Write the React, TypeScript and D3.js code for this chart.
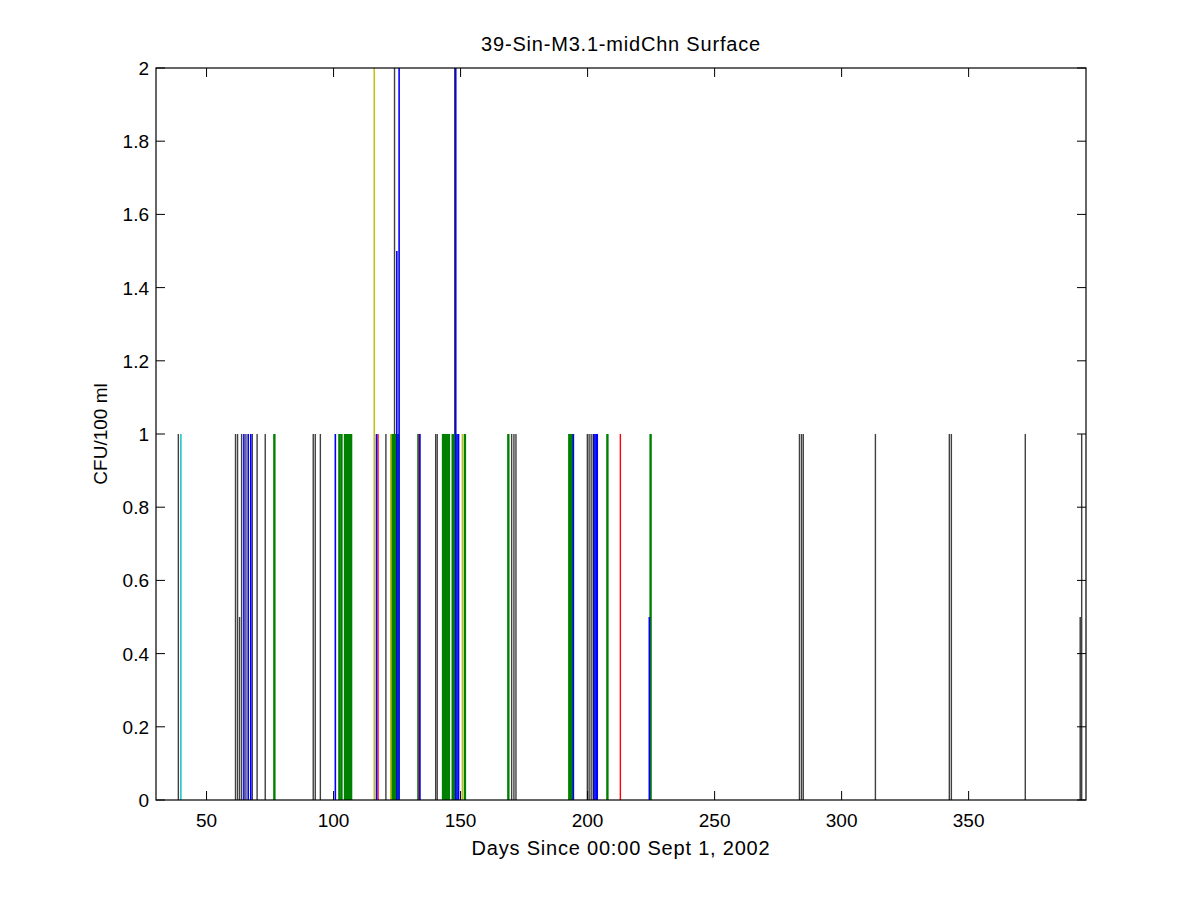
import React from "react";
import * as d3 from "d3";

const title = "39-Sin-M3.1-midChn Surface";
const xLabel = "Days Since 00:00 Sept 1, 2002";
const yLabel = "CFU/100 ml";
const xTicks = [50, 100, 150, 200, 250, 300, 350];
const yTicks = [0, 0.2, 0.4, 0.6, 0.8, 1, 1.2, 1.4, 1.6, 1.8, 2];
const xDomain = [30.1, 396.2];
const yDomain = [0, 2];

// dark gray (MATLAB 'k'-ish) samples
const grayDays = [38.9, 61.4, 62.2, 63.0, 63.8, 65.5, 68.0, 69.9, 73.1, 92.0, 92.8, 94.8, 120.6, 124.0, 140.2, 140.8, 144.8, 147.7, 170.1, 171.0, 171.8, 199.9, 200.6, 201.4, 283.4, 284.2, 284.9, 313.3, 342.4, 343.2, 372.3, 393.9, 394.2, 394.5];
const grayVals = [1, 1, 1, 0.5, 1, 1, 1, 1, 1, 1, 1, 1, 1, 2, 1, 1, 1, 2, 1, 1, 1, 1, 1, 1, 1, 1, 1, 1, 1, 1, 1, 0.5, 0.5, 1];

const greenDays = [76.7, 102.3, 103.1, 104.5, 104.9, 105.3, 105.7, 106.1, 106.5, 106.9, 122.9, 123.3, 123.7, 124.2, 124.6, 125.1, 125.4, 133.4, 143.1, 143.5, 143.9, 144.3, 145.0, 145.4, 146.9, 147.3, 151.7, 168.8, 192.8, 193.2, 193.6, 194.0, 207.8, 224.8];
const greenVals = [1, 1, 1, 1, 1, 1, 1, 1, 1, 1, 1, 1, 1, 1, 1, 1, 1, 1, 1, 1, 1, 1, 1, 1, 1, 1, 1, 1, 1, 1, 1, 1, 1, 1];

const cyanDays = [39.9];
const cyanVals = [1];

const yellowDays = [116.0, 122.6, 150.7, 202.0];
const yellowVals = [2, 1, 1, 1];

const redDays = [117.5, 133.7, 212.9];
const redVals = [1, 1, 1];

const blueDays = [64.7, 66.4, 67.4, 100.7, 116.9, 124.9, 125.8, 134.0, 148.1, 148.6, 149.2, 194.4, 202.4, 202.9, 203.4, 203.8, 224.3];
const blueVals = [1, 1, 1, 1, 1, 1.5, 2, 1, 2, 1, 1, 1, 1, 1, 1, 1, 0.5];

const series = [
  { days: grayDays, vals: grayVals, color: "#404040", w: 1.4 },
  { days: greenDays, vals: greenVals, color: "#008000", w: 2.4 },
  { days: cyanDays, vals: cyanVals, color: "#00BFBF", w: 1.4 },
  { days: yellowDays, vals: yellowVals, color: "#BFBF00", w: 1.4 },
  { days: redDays, vals: redVals, color: "#FF0000", w: 1.4 },
  { days: blueDays, vals: blueVals, color: "#0000FF", w: 1.6 },
];

const W = 1200;
const H = 900;
const L = 156, R = 1086, T = 68, B = 800;
const FONT = "'Liberation Sans', Arial, sans-serif";
const FS = 19;
const FS_LABEL = 20;

export default function App() {
  const x = d3.scaleLinear().domain(xDomain).range([L, R]);
  const y = d3.scaleLinear().domain(yDomain).range([B, T]);
  const tick = 9;
  return (
    <div style={{ position: "absolute", left: 0, top: 0 }}>
      <svg width={W} height={H} style={{ display: "block", background: "#fff" }}>
        <rect x={0} y={0} width={W} height={H} fill="#fff" />
        <defs>
          <clipPath id="plot">
            <rect x={L} y={T} width={R - L} height={B - T} />
          </clipPath>
        </defs>
        <g clipPath="url(#plot)">
          {series.map((s, si) =>
            s.days.map((d, i) => (
              <line
                key={si + "-" + i}
                x1={x(d)}
                x2={x(d)}
                y1={y(0)}
                y2={y(s.vals[i])}
                stroke={s.color}
                strokeWidth={s.w}
              />
            ))
          )}
        </g>
        <rect x={L} y={T} width={R - L} height={B - T} fill="none" stroke="#000" strokeWidth={1.2} />
        {xTicks.map((t) => (
          <g key={"xt" + t}>
            <line x1={x(t)} x2={x(t)} y1={B} y2={B - tick} stroke="#000" />
            <line x1={x(t)} x2={x(t)} y1={T} y2={T + tick} stroke="#000" />
            <text x={x(t)} y={B + 27} textAnchor="middle" fontFamily={FONT} fontSize={FS}>
              {t}
            </text>
          </g>
        ))}
        {yTicks.map((t) => (
          <g key={"yt" + t}>
            <line x1={L} x2={L + tick} y1={y(t)} y2={y(t)} stroke="#000" />
            <line x1={R} x2={R - tick} y1={y(t)} y2={y(t)} stroke="#000" />
            <text x={L - 7} y={y(t) + 7} textAnchor="end" fontFamily={FONT} fontSize={FS}>
              {d3.format("~g")(t)}
            </text>
          </g>
        ))}
        <text x={(L + R) / 2} y={51} textAnchor="middle" fontFamily={FONT} fontSize={FS_LABEL} letterSpacing={0.8}>
          {title}
        </text>
        <text x={(L + R) / 2} y={855} textAnchor="middle" fontFamily={FONT} fontSize={FS_LABEL} letterSpacing={0.8}>
          {xLabel}
        </text>
        <text
          transform={`translate(107, ${(T + B) / 2}) rotate(-90)`}
          textAnchor="middle"
          fontFamily={FONT}
          fontSize={FS}
        >
          {yLabel}
        </text>
      </svg>
    </div>
  );
}
